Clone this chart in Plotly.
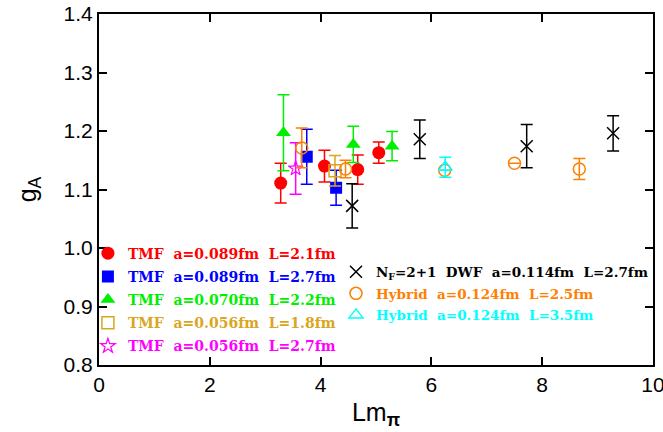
import plotly.graph_objects as go

# ---- data (Lm_pi, g_A, error) ----
tmf1_x = [3.28, 4.07, 4.67, 5.05]
tmf1_y = [1.111, 1.140, 1.134, 1.163]
tmf1_e = [0.034, 0.027, 0.025, 0.018]

tmf2_x = [3.75, 4.28]
tmf2_y = [1.156, 1.103]
tmf2_e = [0.047, 0.030]

tmf3_x = [3.33, 4.59, 5.29]
tmf3_y = [1.197, 1.177, 1.174]
tmf3_e = [0.065, 0.031, 0.025]

tmf4_x = [4.26]
tmf4_y = [1.132]
tmf4_e = [0.026]

tmf5_x = [3.55]
tmf5_y = [1.136]
tmf5_e = [0.044]

dwf_x = [4.57, 5.79, 7.72, 9.28]
dwf_y = [1.072, 1.186, 1.174, 1.196]
dwf_e = [0.038, 0.033, 0.037, 0.030]

hyb1_x = [3.66, 4.45, 6.24, 7.50, 8.67]
hyb1_y = [1.171, 1.135, 1.133, 1.145, 1.135]
hyb1_e = [0.034, 0.015, 0.0, 0.0, 0.018]

hyb2_x = [6.25]
hyb2_y = [1.138]
hyb2_e = [0.017]

font_serif = "DejaVu Serif"

def lbl(text, color):
    return f"<span style='color:{color}'><b>{text}</b></span>"

series = [
    dict(x=tmf1_x, y=tmf1_y, e=tmf1_e, color="#ff0000", symbol="circle", size=13,
         name=lbl("TMF  a=0.089fm  L=2.1fm", "#ff0000"), legend="legend", lw=0),
    dict(x=tmf2_x, y=tmf2_y, e=tmf2_e, color="#0000ff", symbol="square", size=12,
         name=lbl("TMF  a=0.089fm  L=2.7fm", "#0000ff"), legend="legend", lw=0),
    dict(x=tmf3_x, y=tmf3_y, e=tmf3_e, color="#00ee00", symbol="triangle-up", size=13,
         name=lbl("TMF  a=0.070fm  L=2.2fm", "#00ee00"), legend="legend", lw=0),
    dict(x=tmf4_x, y=tmf4_y, e=tmf4_e, color="#daa520", symbol="square-open", size=12,
         name=lbl("TMF  a=0.056fm  L=1.8fm", "#daa520"), legend="legend", lw=1.5),
    dict(x=tmf5_x, y=tmf5_y, e=tmf5_e, color="#ff00ff", symbol="star-open", size=11,
         name=lbl("TMF  a=0.056fm  L=2.7fm", "#ff00ff"), legend="legend", lw=1.2),
    dict(x=dwf_x, y=dwf_y, e=dwf_e, color="#000000", symbol="x-thin-open", size=12,
         name=lbl("N<sub>F</sub>=2+1  DWF  a=0.114fm  L=2.7fm", "#000000"), legend="legend2", lw=1.5),
    dict(x=hyb1_x, y=hyb1_y, e=hyb1_e, color="#ff8000", symbol="circle-open", size=12,
         name=lbl("Hybrid  a=0.124fm  L=2.5fm", "#ff8000"), legend="legend2", lw=1.5),
    dict(x=hyb2_x, y=hyb2_y, e=hyb2_e, color="#00ffff", symbol="triangle-up-open", size=12,
         name=lbl("Hybrid  a=0.124fm  L=3.5fm", "#00ffff"), legend="legend2", lw=1.5),
]

fig = go.Figure()
for i, s in enumerate(series):
    fig.add_trace(go.Scatter(
        x=s["x"], y=s["y"], mode="markers", name=s["name"],
        legend=s["legend"], legendgroup=f"g{i}",
        marker=dict(color=s["color"], symbol=s["symbol"], size=s["size"],
                    line=dict(color=s["color"], width=s["lw"])),
        error_y=dict(type="data", array=s["e"], visible=True, color=s["color"],
                     thickness=1.5, width=6),
    ))

axis_common = dict(
    showline=True, linecolor="black", linewidth=2, mirror="ticks",
    ticks="inside", ticklen=8, tickwidth=1.5, tickcolor="black",
    showgrid=False, zeroline=False, automargin=False,
    ticklabeloverflow="allow",
    tickfont=dict(family="Liberation Sans", size=21, color="black"),
)

fig.update_layout(
    width=663, height=432,
    margin=dict(l=99, r=10, t=14, b=67),
    plot_bgcolor="white", paper_bgcolor="white",
    xaxis=dict(range=[0, 10], dtick=2, tick0=0,
               title=dict(text="Lm<sub><b>π</b></sub>", standoff=8,
                          font=dict(family="Liberation Sans", size=25, color="black")),
               **axis_common),
    yaxis=dict(range=[0.8, 1.4], dtick=0.1, tick0=0.8, tickformat=".1f",
               title=dict(text="g<sub>A</sub>", standoff=20,
                          font=dict(family="Liberation Sans", size=25, color="black")),
               **axis_common),
    legend=dict(x=-0.02, y=0.363, xanchor="left", yanchor="top",
                bgcolor="rgba(0,0,0,0)", traceorder="grouped", tracegroupgap=2,
                font=dict(family=font_serif, size=14), itemwidth=30),
    legend2=dict(x=1.0, y=0.309, xanchor="right", yanchor="top",
                 bgcolor="rgba(0,0,0,0)", traceorder="grouped", tracegroupgap=1,
                 font=dict(family=font_serif, size=13.5), itemwidth=30),
    showlegend=True,
)

fig.write_html("out.html")
